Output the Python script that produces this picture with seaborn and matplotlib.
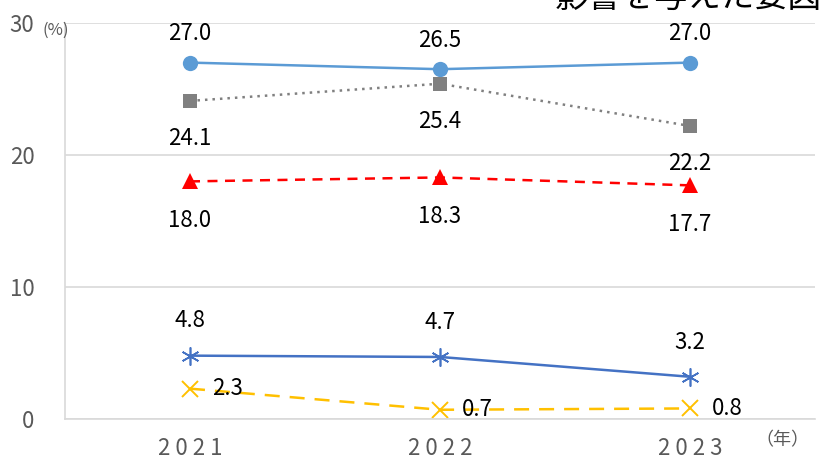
import numpy as np
import pandas as pd
import matplotlib
matplotlib.use("Agg")
import matplotlib.pyplot as plt
import seaborn as sns

years = ["2021", "2022", "2023"]
s_circle = [27.0, 26.5, 27.0]
s_square = [24.1, 25.4, 22.2]
s_triangle = [18.0, 18.3, 17.7]
s_star = [4.8, 4.7, 3.2]
s_cross = [2.3, 0.7, 0.8]

sns.set_theme(style="white")
plt.rcParams["font.family"] = ["Noto Sans CJK JP", "DejaVu Sans"]

fig = plt.figure(figsize=(8.19, 4.69), dpi=100)
ax = fig.add_axes([65 / 819, 1 - 419 / 469, 750 / 819, 396 / 469])

x = np.arange(len(years))

# (values, color, marker, linestyle, markersize, edge width, label offset (dx, dy), ha)
series = [
    (s_circle, "#5B9BD5", "o", "-", 11, 0, (0, 21), "center"),
    (s_square, "#808080", "s", (0, (1, 2)), 10, 0, (0, -27), "center"),
    (s_triangle, "#FF0000", "^", (0, (4, 3)), 11, 0, (0, -28), "center"),
    (s_star, "#4472C4", (6, 2, 0), "-", 13, 1.2, (0, 25), "center"),
    (s_cross, "#FFC000", "x", (0, (6, 4)), 11, 1.4, (16, 0), "left"),
]

for vals, color, marker, ls, ms, mew, off, ha in series:
    df = pd.DataFrame({"x": x, "y": vals})
    sns.lineplot(data=df, x="x", y="y", ax=ax, color=color, linewidth=1.8,
                 linestyle=ls, marker=marker, markersize=ms,
                 markeredgecolor=color, markeredgewidth=mew,
                 markerfacecolor=color)
    for xi, v in zip(x, vals):
        ax.annotate(f"{v:.1f}", (xi, v), xytext=off, textcoords="offset points",
                    ha=ha, va="center", fontsize=16, color="black")

ax.set_xlim(-0.5, 2.5)
ax.set_ylim(0, 30)
ax.set_yticks([0, 10, 20, 30])
ax.set_xticks(x)
ax.set_xticklabels(["2 0 2 1", "2 0 2 2", "2 0 2 3"], fontsize=16, color="#595959")
ax.tick_params(axis="y", labelsize=16, labelcolor="#595959", length=0, pad=22)
ax.tick_params(axis="x", length=0, pad=13)
ax.set_xlabel("")
ax.set_ylabel("")
ax.grid(axis="y", color="#D9D9D9", linewidth=1.2)
for side in ["top", "right"]:
    ax.spines[side].set_visible(False)
ax.spines["left"].set_color("#D9D9D9")
ax.spines["bottom"].set_color("#D9D9D9")
ax.spines["left"].set_linewidth(1.2)
ax.spines["bottom"].set_linewidth(1.2)

fig.text(42 / 819, 1 - 30 / 469, "(%)", fontsize=12, color="#595959", va="center", ha="left")
fig.text(782 / 819, 1 - 440 / 469, "（年）", fontsize=13, color="#595959", va="center", ha="center")
fig.text(555 / 819, 1 - 15 / 469, "影響を与えた要因", fontsize=24, color="black", va="bottom", ha="left")

fig.savefig("out.png", dpi=100)
